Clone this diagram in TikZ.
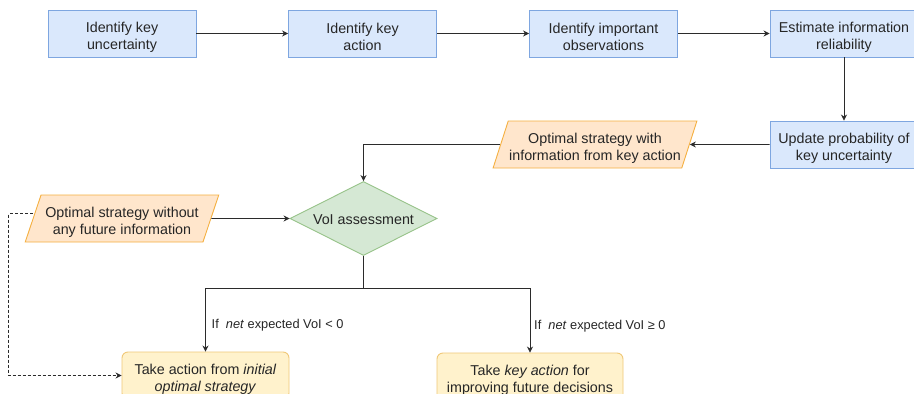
\documentclass[tikz,border=0pt]{standalone}
\usepackage{fontspec}
\setmainfont{Liberation Sans}
\usetikzlibrary{shapes.geometric,arrows.meta,calc}
\definecolor{bfill}{HTML}{DAE8FC}
\definecolor{bdraw}{HTML}{7EA6E0}
\definecolor{ofill}{HTML}{FFE6CC}
\definecolor{odraw}{HTML}{F5B041}
\definecolor{gfill}{HTML}{D5E8D4}
\definecolor{gdraw}{HTML}{97C389}
\definecolor{yfill}{HTML}{FFF2CC}
\definecolor{ydraw}{HTML}{F0C878}
\definecolor{lcol}{HTML}{2B2B2B}
\newcommand{\lowstrut}{\rule{0pt}{17.5pt}}
\tikzset{
  txt/.style={font=\fontsize{14.3}{17}\selectfont, align=center, text=black!85},
  bluebox/.style={txt, rectangle, draw=bdraw, fill=bfill, line width=0.9pt, minimum width=148pt, minimum height=47pt, inner sep=1pt},
  parbox/.style={txt, trapezium, trapezium left angle=69, trapezium right angle=111, trapezium stretches=true, draw=odraw, fill=ofill, line width=0.9pt, minimum height=47pt, inner sep=1pt},
  yelbox/.style={txt, rectangle, rounded corners=6pt, draw=ydraw, fill=yfill, line width=0.9pt, minimum height=47pt, inner sep=1pt},
  decbox/.style={txt, diamond, draw=gdraw, fill=gfill, line width=0.9pt, minimum width=147pt, minimum height=74pt, inner sep=0pt},
  conn/.style={draw=lcol, line width=0.8pt, -{Stealth[length=6pt,width=6pt]}},
  lbl/.style={font=\fontsize{12.8}{15}\selectfont, text=black!85, anchor=west, inner sep=0pt}
}
\begin{document}
\begin{tikzpicture}[x=1pt,y=-1pt]
\clip (0,0) rectangle (914,394);
\fill[white] (0,0) rectangle (914,394);
\node[bluebox] (b1) at (122,33.5) {\lowstrut Identify key\\uncertainty};
\node[bluebox] (b2) at (362.5,33.5) {\lowstrut Identify key\\action};
\node[bluebox] (b3) at (603.5,33.5) {\lowstrut Identify important\\observations};
\node[bluebox] (b4) at (844,33.5) {\lowstrut Estimate information\\reliability};
\node[bluebox] (b5) at (844,144.5) {\lowstrut Update probability of\\key uncertainty};
\node[parbox, minimum width=204pt] (p1) at (595,144.5) {\lowstrut Optimal strategy with\\information from key action};
\node[parbox, minimum width=194pt] (p2) at (122,218.5) {\lowstrut Optimal strategy without\\any future information};
\node[decbox] (d) at (363.5,218.5) {\raisebox{-6pt}[0pt][0pt]{\makebox[0pt]{VoI assessment}}};
\node[yelbox, minimum width=167pt] (t1) at (205.5,375.5) {\lowstrut Take action from \textit{initial}\\\textit{optimal strategy}};
\node[yelbox, minimum width=186pt] (t2) at (530,376.5) {\lowstrut Take \textit{key action} for\\improving future decisions};
\coordinate (split) at (363.5,288);

\draw[conn] (b1.east) -- (b2.west);
\draw[conn] (b2.east) -- (b3.west);
\draw[conn] (b3.east) -- (b4.west);
\draw[conn] (b4.south) -- (b5.north);
\draw[conn] (b5.west) -- (p1.east);
\draw[conn] (p1.west) -| (d.north);
\draw[conn] (p2.east) -- (d.west);
\draw[draw=lcol, line width=0.8pt] (d.south) -- (split);
\draw[conn] (split) -| (t1.north);
\draw[conn] (split) -| (t2.north);
\draw[conn, dash pattern=on 3pt off 2pt] ([yshift=5pt]p2.west) -- ++(-24,0) |- (t1.west);

\node[lbl] (l1) at ([xshift=6pt,yshift=26pt]t1.north) {If\ \ \textit{net} expected VoI < 0};
\node[lbl] (l2) at ([xshift=4pt,yshift=26pt]t2.north) {If\ \ \textit{net} expected VoI ≥ 0};
\end{tikzpicture}
\end{document}
